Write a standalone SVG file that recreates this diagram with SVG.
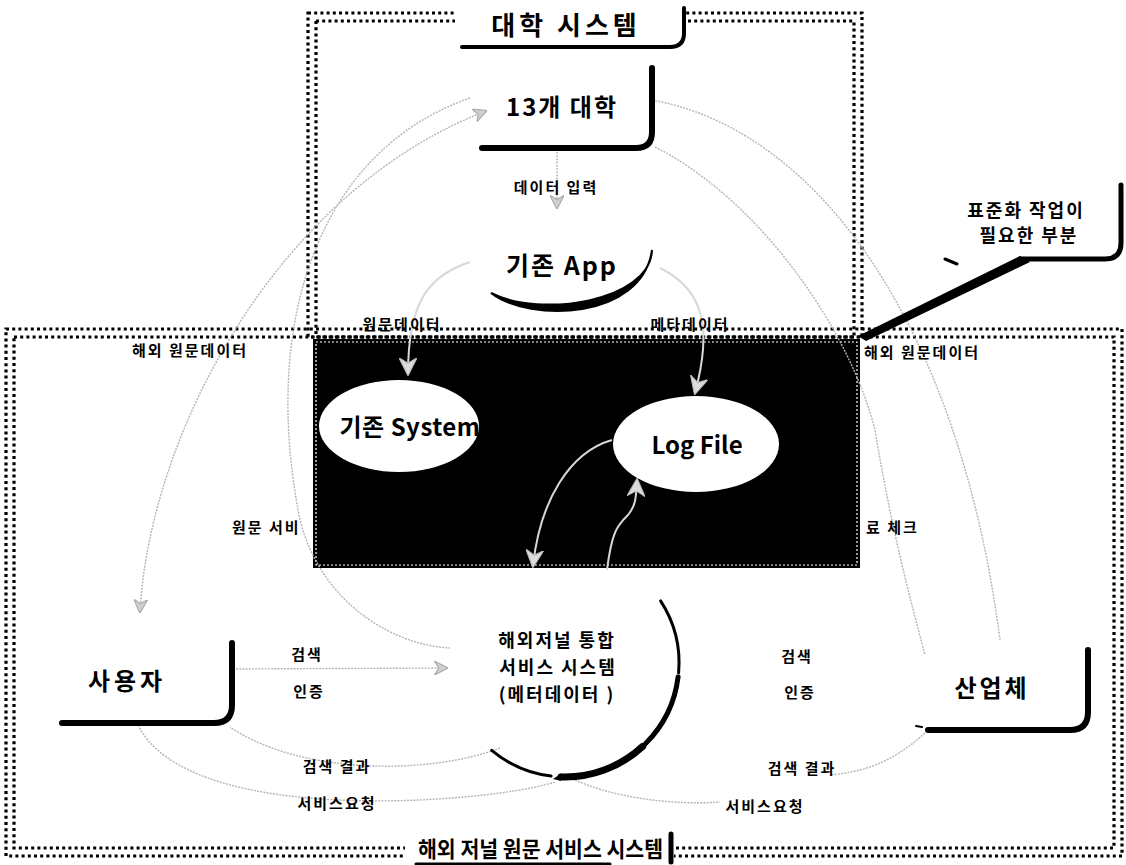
<svg xmlns="http://www.w3.org/2000/svg" width="1126" height="865" viewBox="0 0 1126 865">
<style>
text{font-family:"Noto Sans CJK KR","Noto Sans",sans-serif;font-weight:bold;fill:#000}
.dot{fill:none;stroke:#000;stroke-width:3.2;stroke-dasharray:3 3.2}
.g{fill:none;stroke:#b4b4b4;stroke-width:1.4;stroke-dasharray:2 1.2}
.w{fill:none;stroke:#d8d8d8;stroke-width:2}
.sh{fill:none;stroke:#000;stroke-linecap:round}
.lab{font-size:15px;letter-spacing:2px}
.big{font-size:24px;letter-spacing:2px}
.hub{font-size:18px;letter-spacing:2px}
</style>
<defs>
<marker id="ga" viewBox="0 0 10 10" refX="9" refY="5" markerWidth="14" markerHeight="14" markerUnits="userSpaceOnUse" orient="auto-start-reverse">
<path d="M0,0 L10,5 L0,10 L3,5 z" fill="#cfcfcf" stroke="#aaa" stroke-width="0.8"/>
</marker>
<marker id="wa" viewBox="0 0 10 10" refX="9" refY="5" markerWidth="18" markerHeight="18" markerUnits="userSpaceOnUse" orient="auto">
<path d="M0,0 L10,5 L0,10 L3,5 z" fill="#dcdcdc" stroke="#bbb" stroke-width="0.6"/>
</marker>
</defs>
<rect width="1126" height="865" fill="#fff"/>

<g id="frames">
<rect class="dot" x="308" y="13" width="554" height="324"/>
<rect class="dot" x="316" y="21" width="538" height="316"/>
<rect class="dot" x="6" y="329" width="1116" height="527"/>
<rect class="dot" x="14" y="337" width="1100" height="511"/>
</g>

<g id="data-area">
<rect x="313" y="339" width="547" height="229" fill="#000"/>
<rect x="316" y="342" width="541" height="223" fill="none" stroke="#fff" stroke-width="1.2" stroke-dasharray="2 2"/>
</g>

<g id="connectors">
<path class="g" d="M140,612 C150,430 280,190 486,111" marker-start="url(#ga)" marker-end="url(#ga)"/>
<path class="g" d="M470,98 C320,150 260,320 300,520 C320,600 390,645 450,648"/>
<path class="g" d="M652,100 C820,130 960,330 1000,640"/>
<path class="g" d="M655,147 C760,200 850,330 875,430 C890,520 905,580 925,655"/>
<path class="g" d="M557,152 L557,208" marker-end="url(#ga)"/>
<path class="g" d="M236,669 L447,668" marker-end="url(#ga)"/>
<path class="g" d="M500,748 C430,775 300,775 230,727"/>
<path class="g" d="M138,725 C170,790 300,805 420,800 C480,797 530,790 555,782"/>
<path class="g" d="M575,780 C620,800 680,805 720,802"/>
<path class="g" d="M925,733 C890,765 860,772 830,775"/>
<path class="w" d="M470,262 C430,275 408,300 408,374" marker-end="url(#wa)"/>
<path class="w" d="M660,268 C705,290 712,330 695,393" marker-end="url(#wa)"/>
<path class="w" d="M612,440 C570,452 540,500 533,566" marker-end="url(#wa)"/>
<path class="w" d="M607,570 C612,530 618,525 628,515 C636,505 636,498 637,480" marker-end="url(#wa)"/>
</g>

<g id="title-univ">
<rect x="455" y="2" width="228" height="46" fill="#fff"/>
<path class="sh" stroke-width="4" d="M462,47 H670 Q684,47 684,33 V8"/>
<text x="566" y="35" text-anchor="middle" font-size="26" letter-spacing="4">대학 시스템</text>
</g>

<g id="n-univ">
<path class="sh" stroke-width="6" d="M482,148 H636 Q652,148 652,132 V68"/>
<text x="562" y="116" text-anchor="middle" class="big">13개 대학</text>
</g>
<text class="lab" x="556" y="193" text-anchor="middle">데이터 입력</text>

<g id="n-app">
<path d="M491,293 C530,323 642,320 652,250 C650,302 540,318 491,293 z" fill="#000" stroke="#000" stroke-width="2"/>
<text x="562" y="275" text-anchor="middle" font-size="25" letter-spacing="2">기존 App</text>
</g>

<g id="n-system">
<ellipse cx="399" cy="426" rx="80" ry="46" fill="#fff"/>
<text x="410" y="436" text-anchor="middle" font-size="24" letter-spacing="0.5">기존 System</text>
</g>

<g id="n-log">
<ellipse cx="696" cy="444" rx="83" ry="48" fill="#fff"/>
<text x="697" y="454" text-anchor="middle" font-size="24">Log File</text>
</g>

<g id="labels">
<text class="lab" x="402" y="330" text-anchor="middle">원문데이터</text>
<text class="lab" x="690" y="330" text-anchor="middle">메타데이터</text>
<text class="lab" x="190" y="356" text-anchor="middle">해외 원문데이터</text>
<text class="lab" x="864" y="358">해외 원문데이터</text>
<text class="lab" x="232" y="533">원문 서비</text>
<text class="lab" x="866" y="533">료 체크</text>
<text class="lab" x="307" y="660" text-anchor="middle">검색</text>
<text class="lab" x="309" y="697" text-anchor="middle">인증</text>
<text class="lab" x="337" y="772" text-anchor="middle">검색 결과</text>
<text class="lab" x="337" y="809" text-anchor="middle">서비스요청</text>
<text class="lab" x="797" y="662" text-anchor="middle">검색</text>
<text class="lab" x="800" y="698" text-anchor="middle">인증</text>
<text class="lab" x="802" y="774" text-anchor="middle">검색 결과</text>
<text class="lab" x="765" y="812" text-anchor="middle">서비스요청</text>
</g>

<g id="callout">
<path d="M1020,256 L1030,262 L866,341 L858,336 z" fill="#000"/>
<path class="sh" stroke-width="5" d="M1020,259 H1105 Q1121,259 1121,243 V185"/>
<path class="sh" stroke-width="3" d="M945,259 L957,264"/>
<text x="1026" y="217" text-anchor="middle" font-size="18" letter-spacing="2">표준화 작업이</text>
<text x="1029" y="242" text-anchor="middle" font-size="18" letter-spacing="2">필요한 부분</text>
</g>

<g id="n-user">
<path class="sh" stroke-width="6" d="M62,723 H214 Q232,723 232,705 V643"/>
<text x="127" y="690" text-anchor="middle" font-size="24" letter-spacing="4">사용자</text>
</g>

<g id="n-industry">
<path class="sh" stroke-width="6" d="M928,730 H1070 Q1088,730 1088,712 V650"/>
<path class="sh" stroke-width="2" d="M916,726 L922,727"/>
<text x="992" y="697" text-anchor="middle" font-size="24" letter-spacing="3">산업체</text>
</g>

<g id="n-hub">
<path class="sh" stroke-width="3" d="M660.6,600.9 A114,114 0 0 1 678.6,672.9"/>
<path class="sh" stroke-width="5" d="M678.1,676.9 A114,114 0 0 1 645.6,743.6"/>
<path class="sh" stroke-width="7" d="M642.7,746.4 A114,114 0 0 1 561,776.9"/>
<path class="sh" stroke-width="3" d="M551.1,776.1 A114,114 0 0 1 491.7,750.3"/>
<path d="M553,779 L562,773 L561,781 z" fill="#000"/>
<text class="hub" x="557" y="647" text-anchor="middle">해외저널 통합</text>
<text class="hub" x="558" y="674" text-anchor="middle">서비스 시스템</text>
<text class="hub" x="557" y="701" text-anchor="middle">(메터데이터 )</text>
</g>

<g id="title-overseas">
<rect x="405" y="826" width="269" height="39" fill="#fff"/>
<path class="sh" stroke-width="5" d="M671,834 V862"/>
<path class="sh" stroke-width="3" d="M416,864 H610"/>
<text x="418" y="857" font-size="22" textLength="245" lengthAdjust="spacingAndGlyphs">해외 저널 원문 서비스 시스템</text>
</g>
</svg>
